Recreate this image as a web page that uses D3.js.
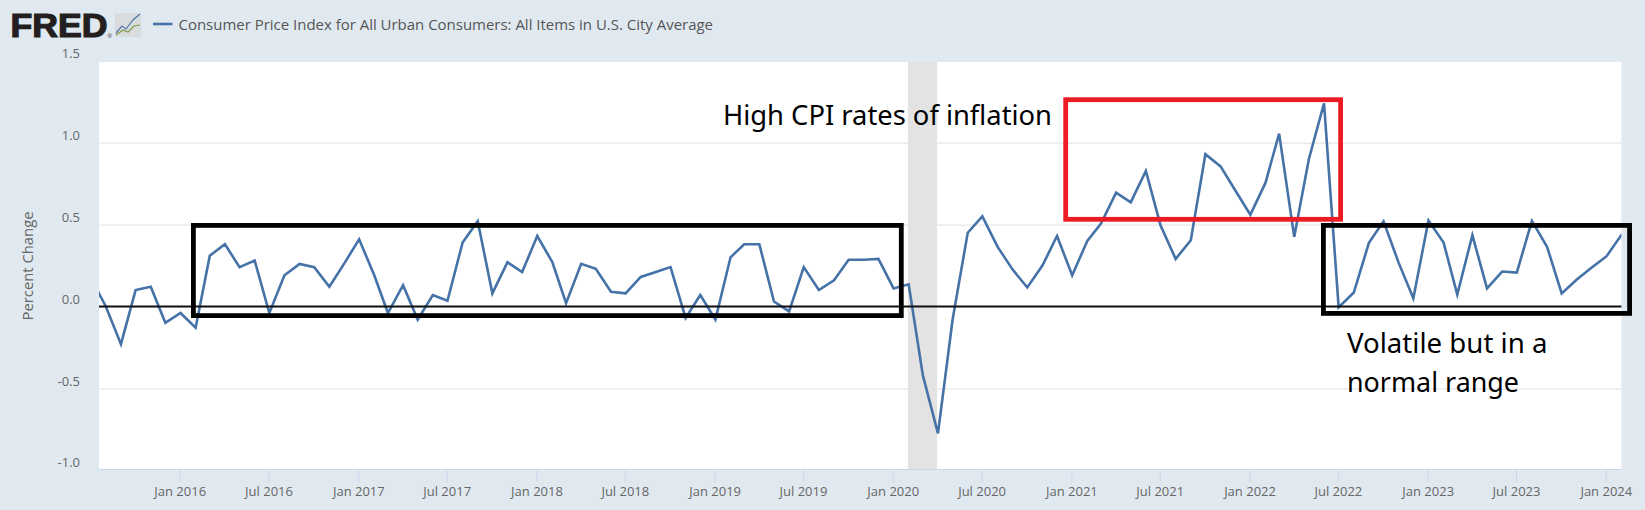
<!DOCTYPE html>
<html>
<head>
<meta charset="utf-8">
<script src="https://cdn.jsdelivr.net/npm/d3@7"></script>
<style>
html,body{margin:0;padding:0;background:#e1e9f0;}
svg{display:block;}
text{font-family:"Open Sans",sans-serif;}
</style>
</head>
<body>
<svg id="chart" width="1645" height="510"></svg>
<script>
const seriesName = "Consumer Price Index for All Urban Consumers: All Items in U.S. City Average";
const yAxisTitle = "Percent Change";
const firstMonth = "2015-07-01";
const cpiChange = [
  0.175, 0.0, -0.23, 0.10, 0.12, -0.10,
  -0.04, -0.13, 0.31, 0.38, 0.24, 0.28, -0.04, 0.19, 0.26, 0.24, 0.12, 0.26,
  0.41, 0.19, -0.04, 0.13, -0.08, 0.07, 0.035, 0.39, 0.52, 0.08, 0.27, 0.21,
  0.43, 0.27, 0.02, 0.26, 0.23, 0.09, 0.08, 0.18, 0.21, 0.24, -0.07, 0.07,
  -0.08, 0.30, 0.38, 0.38, 0.03, -0.03, 0.24, 0.10, 0.16, 0.285, 0.285, 0.29,
  0.11, 0.135, -0.42, -0.775, -0.08, 0.45, 0.55, 0.365, 0.225, 0.116, 0.25, 0.43,
  0.19, 0.40, 0.506, 0.695, 0.636, 0.827, 0.496, 0.29, 0.404, 0.929, 0.855, 0.709,
  0.56, 0.754, 1.055, 0.425, 0.90, 1.24, -0.006, 0.085, 0.388, 0.52, 0.266, 0.05,
  0.524, 0.39, 0.073, 0.435, 0.11, 0.213, 0.207, 0.522, 0.364, 0.08, 0.165, 0.236,
  0.307, 0.44
];
const xTickMonths = ["2016-01","2016-07","2017-01","2017-07","2018-01","2018-07","2019-01","2019-07","2020-01","2020-07","2021-01","2021-07","2022-01","2022-07","2023-01","2023-07","2024-01"];
const yTicks = [-1, -0.5, 0, 0.5, 1, 1.5];
const recession = ["2020-02-01","2020-04-01"];
const noteHigh = "High CPI rates of inflation";
const noteNormal = ["Volatile but in a","normal range"];

const parseMonth = d3.utcParse("%Y-%m");
const parseDay = d3.utcParse("%Y-%m-%d");
const start = parseDay(firstMonth);
const dates = cpiChange.map((_, i) => d3.utcMonth.offset(start, i));

const P = {l:99, r:1621.5, t:62, b:469};
const x = d3.scaleUtc().domain([parseMonth("2016-01"), parseMonth("2024-01")]).range([179.7, 1605.8]);
const xLine = x.copy().range([180.5, 1606.6]);
const y = d3.scaleLinear().domain([-1, 1.5]).range([470.3, 60.7]);

const svg = d3.select("#chart");
svg.append("rect").attr("width",1645).attr("height",510).attr("fill","#e1e9f0");
svg.append("defs").append("clipPath").attr("id","plot").append("rect")
  .attr("x",P.l).attr("y",P.t).attr("width",P.r-P.l).attr("height",P.b-P.t);
svg.append("rect").attr("x",P.l).attr("y",P.t).attr("width",P.r-P.l).attr("height",P.b-P.t).attr("fill","#fff");

// y axis with gridlines
const yAxis = svg.append("g").attr("transform",`translate(${P.l},0)`)
  .call(d3.axisLeft(y).tickValues(yTicks).tickSize(-(P.r-P.l)).tickPadding(19)
    .tickFormat(d => d3.format(".1f")(d).replace("\u2212","-")));
yAxis.select(".domain").remove();
yAxis.selectAll("line").attr("stroke","#e6e6e6").attr("stroke-width",1.2)
  .attr("display",d => (d===1.5||d===-1) ? "none" : null);
yAxis.selectAll("text").attr("fill","#666").attr("font-size",13).attr("dy","-0.26em").attr("x",-19)
  .style("font-family",'"Open Sans",sans-serif');

// recession
svg.append("rect").attr("clip-path","url(#plot)")
  .attr("x",x(parseDay(recession[0]))).attr("width",x(parseDay(recession[1]))-x(parseDay(recession[0])))
  .attr("y",P.t).attr("height",P.b-P.t).attr("fill","#e3e3e3");

// x axis
const xAxis = svg.append("g").attr("transform",`translate(0,${P.b})`)
  .call(d3.axisBottom(x).tickValues(xTickMonths.map(parseMonth)).tickSize(13).tickPadding(5)
    .tickFormat(d3.utcFormat("%b %Y")));
xAxis.select(".domain").attr("d",`M${P.l},0.5H${P.r}`).attr("stroke","#ccd6eb");
xAxis.selectAll("line").attr("stroke","#ccd6eb");
xAxis.selectAll("text").attr("fill","#666").attr("font-size",13)
  .style("font-family",'"Open Sans",sans-serif');

// series
svg.append("path").datum(cpiChange).attr("clip-path","url(#plot)")
  .attr("fill","none").attr("stroke","#4572a7").attr("stroke-width",2.6).attr("stroke-linejoin","miter")
  .attr("d", d3.line().x((d,i)=>xLine(dates[i])).y(d=>y(d)));

// axis title
svg.append("text").attr("transform","translate(27,266) rotate(-90)").attr("text-anchor","middle")
  .attr("dominant-baseline","central").attr("fill","#666").attr("font-size",14.5)
  .attr("textLength",109).attr("lengthAdjust","spacingAndGlyphs").text(yAxisTitle);

// hand annotations
svg.append("line").attr("x1",P.l).attr("x2",P.r).attr("y1",306.6).attr("y2",306.6).attr("stroke","#111").attr("stroke-width",2);
const box = (x0,y0,x1,y1,c) => svg.append("rect").attr("x",x0).attr("y",y0).attr("width",x1-x0).attr("height",y1-y0)
  .attr("fill","none").attr("stroke",c).attr("stroke-width",4.8);
box(193.4,225.4,901.3,315.6,"#000");
box(1323.4,225.4,1629.6,313.4,"#000");
box(1065.7,99.7,1340.6,219.3,"#ed1c24");
const noteFont = '"Noto Sans","Open Sans",sans-serif';
svg.append("text").attr("x",723).attr("y",125).attr("font-size",27).attr("fill","#000").style("font-family",noteFont)
  .attr("textLength",329).attr("lengthAdjust","spacingAndGlyphs").text(noteHigh);
svg.append("text").attr("x",1347).attr("y",352.7).attr("font-size",27).attr("fill","#000").style("font-family",noteFont)
  .attr("textLength",200.5).attr("lengthAdjust","spacingAndGlyphs").text(noteNormal[0]);
svg.append("text").attr("x",1347).attr("y",391.7).attr("font-size",27).attr("fill","#000").style("font-family",noteFont)
  .attr("textLength",172).attr("lengthAdjust","spacingAndGlyphs").text(noteNormal[1]);

// header: logo + legend
svg.append("text").attr("x",10.5).attr("y",37).attr("font-size",33).attr("font-weight",700).attr("fill","#231f20")
  .attr("stroke","#231f20").attr("stroke-width",1.2)
  .attr("textLength",97).attr("lengthAdjust","spacingAndGlyphs")
  .style("font-family",'"Liberation Sans",sans-serif').text("FRED");
svg.append("text").attr("x",107.5).attr("y",38).attr("font-size",6).attr("fill","#231f20")
  .style("font-family",'"Liberation Sans",sans-serif').text("®");
const icon = svg.append("g").attr("transform","translate(115,13)");
icon.append("rect").attr("width",26).attr("height",24).attr("fill","#d9dcdf");
icon.append("path").attr("d","M1,20L7,13L11,16L18,7L25,1").attr("fill","none").attr("stroke","#4f76a8").attr("stroke-width",1.2);
icon.append("path").attr("d","M1,22L8,17L13,19L19,13L25,12").attr("fill","none").attr("stroke","#7f9a45").attr("stroke-width",1.2);

svg.append("line").attr("x1",153).attr("x2",172.5).attr("y1",24).attr("y2",24).attr("stroke","#4572a7").attr("stroke-width",2.6);
svg.append("text").attr("x",178.5).attr("y",30).attr("font-size",15).attr("fill","#555")
  .attr("textLength",534.5).attr("lengthAdjust","spacingAndGlyphs").text(seriesName);
</script>
</body>
</html>
